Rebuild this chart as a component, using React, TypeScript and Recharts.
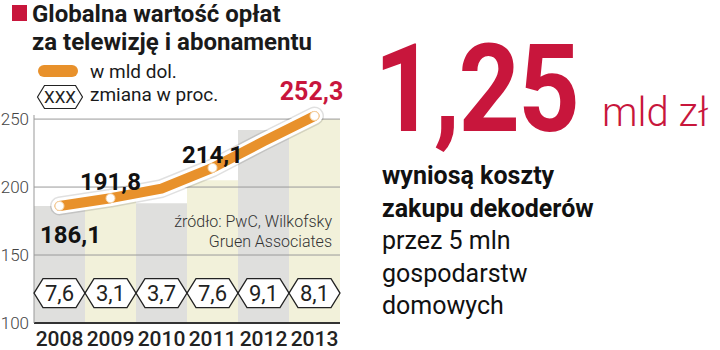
import React from 'react';
import {
  ComposedChart, Bar, Line, XAxis, YAxis, Cell, ReferenceLine, LabelList,
} from 'recharts';

// values; 2010 and 2012 are unlabeled, estimated from the line
const years = ['2008', '2009', '2010', '2011', '2012', '2013'];
const fees = [186.1, 191.8, 198.9, 214.1, 233.6, 252.3];
const changes = [7.6, 3.1, 3.7, 7.6, 9.1, 8.1];
const columnTops = [186, 193, 188, 205, 242, 250];
const labeled = [true, true, false, true, false, true];
const yTicks = [100, 150, 200, 250];

const HEX_LEVEL = 122;
const RED = '#c8163c';
const ORANGE = '#e8912b';
const FONT = 'Roboto, "Noto Sans", sans-serif';

const data = years.map((year, i) => ({
  year,
  fee: fees[i],
  col: columnTops[i],
  change: changes[i],
  labeled: labeled[i],
  hex: HEX_LEVEL,
}));

const fmt = (v: number) => v.toFixed(1).replace('.', ',');

function hexPath(cx: number, cy: number, hw: number, hh: number, s: number) {
  return `M${cx - hw},${cy} L${cx - hw + s},${cy - hh} L${cx + hw - s},${cy - hh} L${cx + hw},${cy} L${cx + hw - s},${cy + hh} L${cx - hw + s},${cy + hh} Z`;
}

const HexDot = (props: any) => {
  const { cx, cy, payload, index } = props;
  return (
    <g key={`hex-${index}`}>
      <path d={hexPath(cx, cy, 25.5, 14.5, 9)} fill="#fff" stroke="#222" strokeWidth={1.3} />
      <text x={cx} y={cy + 8} textAnchor="middle" fontSize={22} fill="#222" fontFamily={FONT}>
        {fmt(payload.change)}
      </text>
    </g>
  );
};

const Marker = (props: any) => {
  const { cx, cy, payload, index } = props;
  if (!payload.labeled) return <g key={`m-${index}`} />;
  return <circle key={`m-${index}`} cx={cx} cy={cy} r={4.5} fill="#fff" stroke="#f5d3a6" strokeWidth={1} />;
};

const labelShift: Record<number, [number, number]> = {
  0: [11, 37],
  1: [0, -8],
  3: [0, -5],
  5: [-3, -16],
};

const ValueLabel = (props: any) => {
  const { x, y, value, index } = props;
  if (!labeled[index]) return null;
  const [dx, dy] = labelShift[index] || [0, -10];
  const last = index === fees.length - 1;
  return (
    <text
      x={x + dx}
      y={y + dy}
      textAnchor="middle"
      fontSize={last ? 25 : 24}
      fontWeight={700}
      fill={last ? RED : '#111'}
      fontFamily={FONT}
    >
      {fmt(value)}
    </text>
  );
};

export default function App() {
  return (
    <div style={{ position: 'absolute', left: 0, top: 0, width: 720, height: 350, overflow: 'hidden', background: '#fff', fontFamily: FONT, color: '#1a1a1a' }}>
      {/* heading */}
      <div style={{ position: 'absolute', left: 12, top: 5, width: 15, height: 16, background: RED }} />
      <div style={{ position: 'absolute', left: 32, top: 0, fontSize: 24, fontWeight: 700, lineHeight: '28px' }}>
        Globalna wartość opłat<br />za telewizję i abonamentu
      </div>
      {/* legend */}
      <div style={{ position: 'absolute', left: 38, top: 65, width: 40, height: 12, borderRadius: 6, background: ORANGE }} />
      <div style={{ position: 'absolute', left: 90, top: 60, fontSize: 19, lineHeight: '24px' }}>w mld dol.</div>
      <svg style={{ position: 'absolute', left: 36, top: 84 }} width={48} height={26}>
        <path d={hexPath(24, 13, 22.5, 11.5, 7)} fill="#fff" stroke="#222" strokeWidth={1.2} />
        <text x={24} y={19} textAnchor="middle" fontSize={17} fill="#222" fontFamily={FONT}>XXX</text>
      </svg>
      <div style={{ position: 'absolute', left: 90, top: 83, fontSize: 19, lineHeight: '24px' }}>zmiana w proc.</div>

      <div style={{ position: 'absolute', left: 0, top: 0 }}>
        <ComposedChart
          width={350}
          height={350}
          data={data}
          margin={{ top: 115, right: 10, bottom: 0, left: 4 }}
          barCategoryGap={0}
          barGap={0}
        >
          <XAxis
            dataKey="year"
            height={27}
            tickLine={false}
            tickSize={0}
            tickMargin={8}
            axisLine={{ stroke: '#333', strokeWidth: 2 }}
            tick={{ fontSize: 21, fill: '#222', fontFamily: FONT, fontWeight: 500 }}
            interval={0}
          />
          <YAxis
            domain={[100, 253]}
            ticks={yTicks}
            width={30}
            tickLine={false}
            tickSize={0}
            tickMargin={5}
            axisLine={{ stroke: '#999', strokeWidth: 1 }}
            tick={{ fontSize: 17, fill: '#444', fontFamily: FONT, fontWeight: 300 }}
          />
          <Bar dataKey="col" isAnimationActive={false}>
            {data.map((d, i) => (
              <Cell key={d.year} fill={i % 2 === 0 ? '#dfdfdd' : '#f2f1da'} />
            ))}
          </Bar>
          {[150, 200, 250].map((v) => (
            <ReferenceLine key={v} y={v} stroke="#9a9a9a" strokeWidth={1} />
          ))}
          <Line dataKey="hex" stroke="none" dot={HexDot} activeDot={false} isAnimationActive={false} />
          <Line dataKey="fee" stroke="rgba(0,0,0,0.12)" strokeWidth={19} strokeLinecap="round" strokeLinejoin="round" dot={false} activeDot={false} isAnimationActive={false} />
          <Line dataKey="fee" stroke="#fff" strokeWidth={16} strokeLinecap="round" strokeLinejoin="round" dot={false} activeDot={false} isAnimationActive={false} />
          <Line dataKey="fee" stroke={ORANGE} strokeWidth={10} strokeLinecap="round" strokeLinejoin="round" dot={Marker} activeDot={false} isAnimationActive={false}>
            <LabelList dataKey="fee" content={ValueLabel} />
          </Line>
        </ComposedChart>
      </div>

      {/* source */}
      <div style={{ position: 'absolute', left: 150, width: 182, top: 212, textAlign: 'right', fontSize: 16, fontWeight: 300, color: '#333', lineHeight: '20px' }}>
        źródło: PwC, Wilkofsky<br />Gruen Associates
      </div>

      {/* headline figure */}
      <div style={{ position: 'absolute', left: 374, top: 20, fontSize: 122, fontWeight: 700, color: RED, lineHeight: '140px', transform: 'scaleX(0.88)', transformOrigin: 'left top', letterSpacing: -2, whiteSpace: 'nowrap' }}>
        1,25
      </div>
      <div style={{ position: 'absolute', left: 602, top: 90, fontSize: 40, fontWeight: 300, color: RED, lineHeight: '46px', whiteSpace: 'nowrap' }}>
        mld zł
      </div>
      <div style={{ position: 'absolute', left: 382, top: 160, fontSize: 25, lineHeight: '32.5px', color: '#111', whiteSpace: 'nowrap' }}>
        <div style={{ fontWeight: 700 }}>wyniosą koszty</div>
        <div style={{ fontWeight: 700 }}>zakupu dekoderów</div>
        <div>przez 5 mln</div>
        <div>gospodarstw</div>
        <div>domowych</div>
      </div>
    </div>
  );
}
